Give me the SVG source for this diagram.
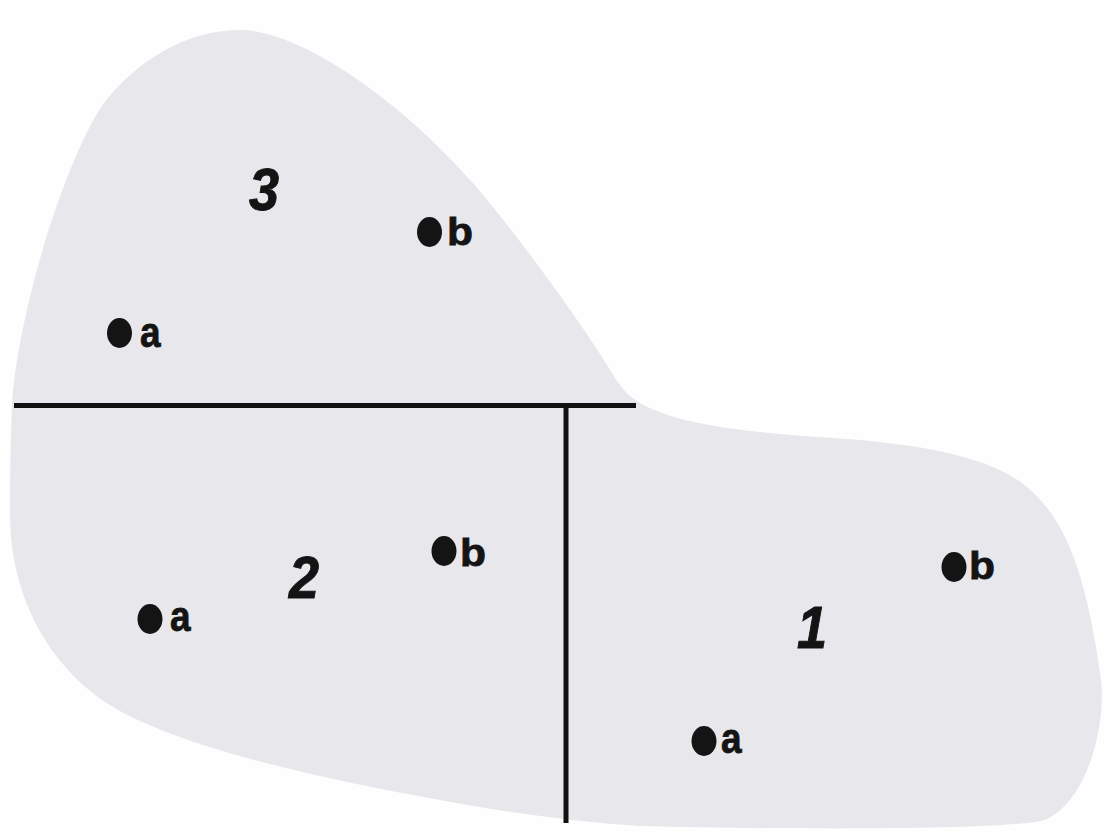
<svg xmlns="http://www.w3.org/2000/svg" width="1104" height="831" viewBox="0 0 1104 831">
  <style>
    .blob { fill: #e8e8ec; stroke: none; }
    .div { stroke: #111; stroke-width: 5; fill: none; }
    .dot { fill: #141414; }
    .lbl { font-family: "Liberation Sans", Arial, sans-serif; font-weight: bold; fill: #141414; stroke: #141414; stroke-width: 0.8; }
    .la { font-size: 42px; }
    .lb { font-size: 38px; }
    .num { font-family: "Liberation Sans", Arial, sans-serif; font-weight: bold; font-style: italic; font-size: 60px; fill: #141414; stroke: #141414; stroke-width: 1; text-anchor: middle; }
  </style>
  <rect width="1104" height="831" fill="#fefefe"/>
  <g id="area">
    <path class="blob" d="M 12 405 C 16 330, 55 185, 98 112 C 122 75, 175 30, 240 30 C 300 30, 400 100, 472 182 C 512 228, 580 320, 612 373 C 622 390, 632 402, 660 412 C 690 425, 760 434, 833 438 C 910 443, 990 455, 1027 487 C 1060 515, 1085 560, 1101 680 C 1106 720, 1090 800, 1045 820 C 1010 830, 800 830, 640 826 C 590 823, 500 812, 440 800 C 330 780, 195 752, 118 710 C 52 672, 10 600, 10 513 C 10 470, 11 430, 12 405 Z"/>
  </g>
  <g id="connectors">
    <line class="div" x1="14" y1="405.5" x2="636" y2="405.5"/>
    <line class="div" x1="566" y1="405.5" x2="566" y2="823"/>
  </g>
  <g id="region3">
    <text class="num" transform="translate(264,210) scale(0.9,1)">3</text>
    <g id="r3a"><ellipse class="dot" cx="119.5" cy="333" rx="12.5" ry="15"/><text class="lbl la" transform="translate(140,347) scale(0.88,1)">a</text></g>
    <g id="r3b"><ellipse class="dot" cx="429.5" cy="232" rx="12.5" ry="15"/><text class="lbl lb" transform="translate(447,245) scale(1.12,1)">b</text></g>
  </g>
  <g id="region2">
    <text class="num" transform="translate(304,598) scale(0.9,1)">2</text>
    <g id="r2a"><ellipse class="dot" cx="150" cy="619" rx="12.5" ry="15"/><text class="lbl la" transform="translate(170,631) scale(0.88,1)">a</text></g>
    <g id="r2b"><ellipse class="dot" cx="444" cy="551" rx="12.5" ry="15"/><text class="lbl lb" transform="translate(460,566) scale(1.12,1)">b</text></g>
  </g>
  <g id="region1">
    <text class="num" transform="translate(812,648) scale(0.9,1)">1</text>
    <g id="r1a"><ellipse class="dot" cx="704" cy="741" rx="12.5" ry="15"/><text class="lbl la" transform="translate(721,753) scale(0.88,1)">a</text></g>
    <g id="r1b"><ellipse class="dot" cx="954" cy="567" rx="12.5" ry="15"/><text class="lbl lb" transform="translate(969,579) scale(1.12,1)">b</text></g>
  </g>
</svg>
